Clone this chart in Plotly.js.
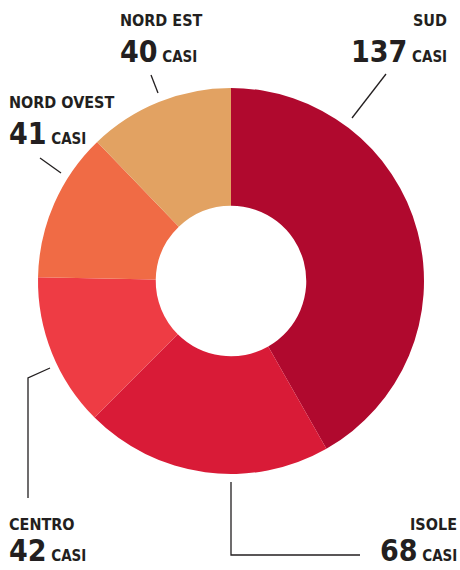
<!DOCTYPE html>
<html><head><meta charset="utf-8">
<script src="https://cdn.plot.ly/plotly-3.0.1.min.js"></script>
<style>html,body{margin:0;padding:0;background:#fff}#chart{width:460px;height:570px}</style>
</head><body><div id="chart"></div>
<script>
const categories = ["SUD", "ISOLE", "CENTRO", "NORD OVEST", "NORD EST"];
const values = [137, 68, 42, 41, 40];
const colors = ["#B0092E", "#D91B37", "#EE3C44", "#F06B45", "#E2A262"];
const unitLabel = "CASI";

const W = 460, H = 570;
const fx = x => x / W;
const fy = y => 1 - y / H;
const FONT = "'DejaVu Sans Condensed', 'Roboto', sans-serif";
const INK = "#231f20";

// label placement (pixels): [x, nameBoxBottom, numBoxBottom, anchor]
const labelPos = {
  "SUD": [448, 31, 70, "right"],
  "ISOLE": [458, 535, 569, "right"],
  "CENTRO": [8, 535, 569, "left"],
  "NORD OVEST": [8, 113, 152, "left"],
  "NORD EST": [119, 31, 70, "left"]
};

const annotations = [];
categories.forEach((c, i) => {
  const [x, nb, vb, anc] = labelPos[c];
  annotations.push({
    xref: "paper", yref: "paper", x: fx(x), y: fy(nb), xanchor: anc, yanchor: "bottom",
    text: c, showarrow: false, font: {family: FONT, size: 16, color: INK, weight: 700},
    borderpad: 0
  });
  annotations.push({
    xref: "paper", yref: "paper", x: fx(x), y: fy(vb), xanchor: anc, yanchor: "bottom",
    text: values[i] + '<span style="font-size:15px"> ' + unitLabel + '</span>',
    showarrow: false, font: {family: FONT, size: 30, color: INK, weight: 700}, borderpad: 0
  });
});

const line = (pts) => ({
  type: "path", xref: "paper", yref: "paper",
  path: pts.map((p, k) => (k ? "L" : "M") + fx(p[0]) + "," + fy(p[1])).join(" "),
  line: {color: INK, width: 1.3}
});
const shapes = [
  line([[151, 75], [158, 93]]),
  line([[386, 74], [352, 118]]),
  line([[40, 158], [61, 173]]),
  line([[50, 368], [28, 378], [28, 498]]),
  line([[231, 482], [231, 555], [360, 555]])
];

const data = [{
  type: "pie", labels: categories, values: values, sort: false, direction: "clockwise",
  rotation: 0, hole: 0.39, marker: {colors: colors, line: {width: 0}},
  textinfo: "none", hoverinfo: "label+value", showlegend: false,
  domain: {x: [fx(38), fx(424)], y: [fy(474), fy(88)]}
}];
const layout = {
  width: W, height: H, margin: {l: 0, r: 0, t: 0, b: 0},
  paper_bgcolor: "#fff", plot_bgcolor: "#fff", showlegend: false,
  annotations: annotations, shapes: shapes
};
Plotly.newPlot("chart", data, layout, {displayModeBar: false, staticPlot: true});
</script></body></html>
